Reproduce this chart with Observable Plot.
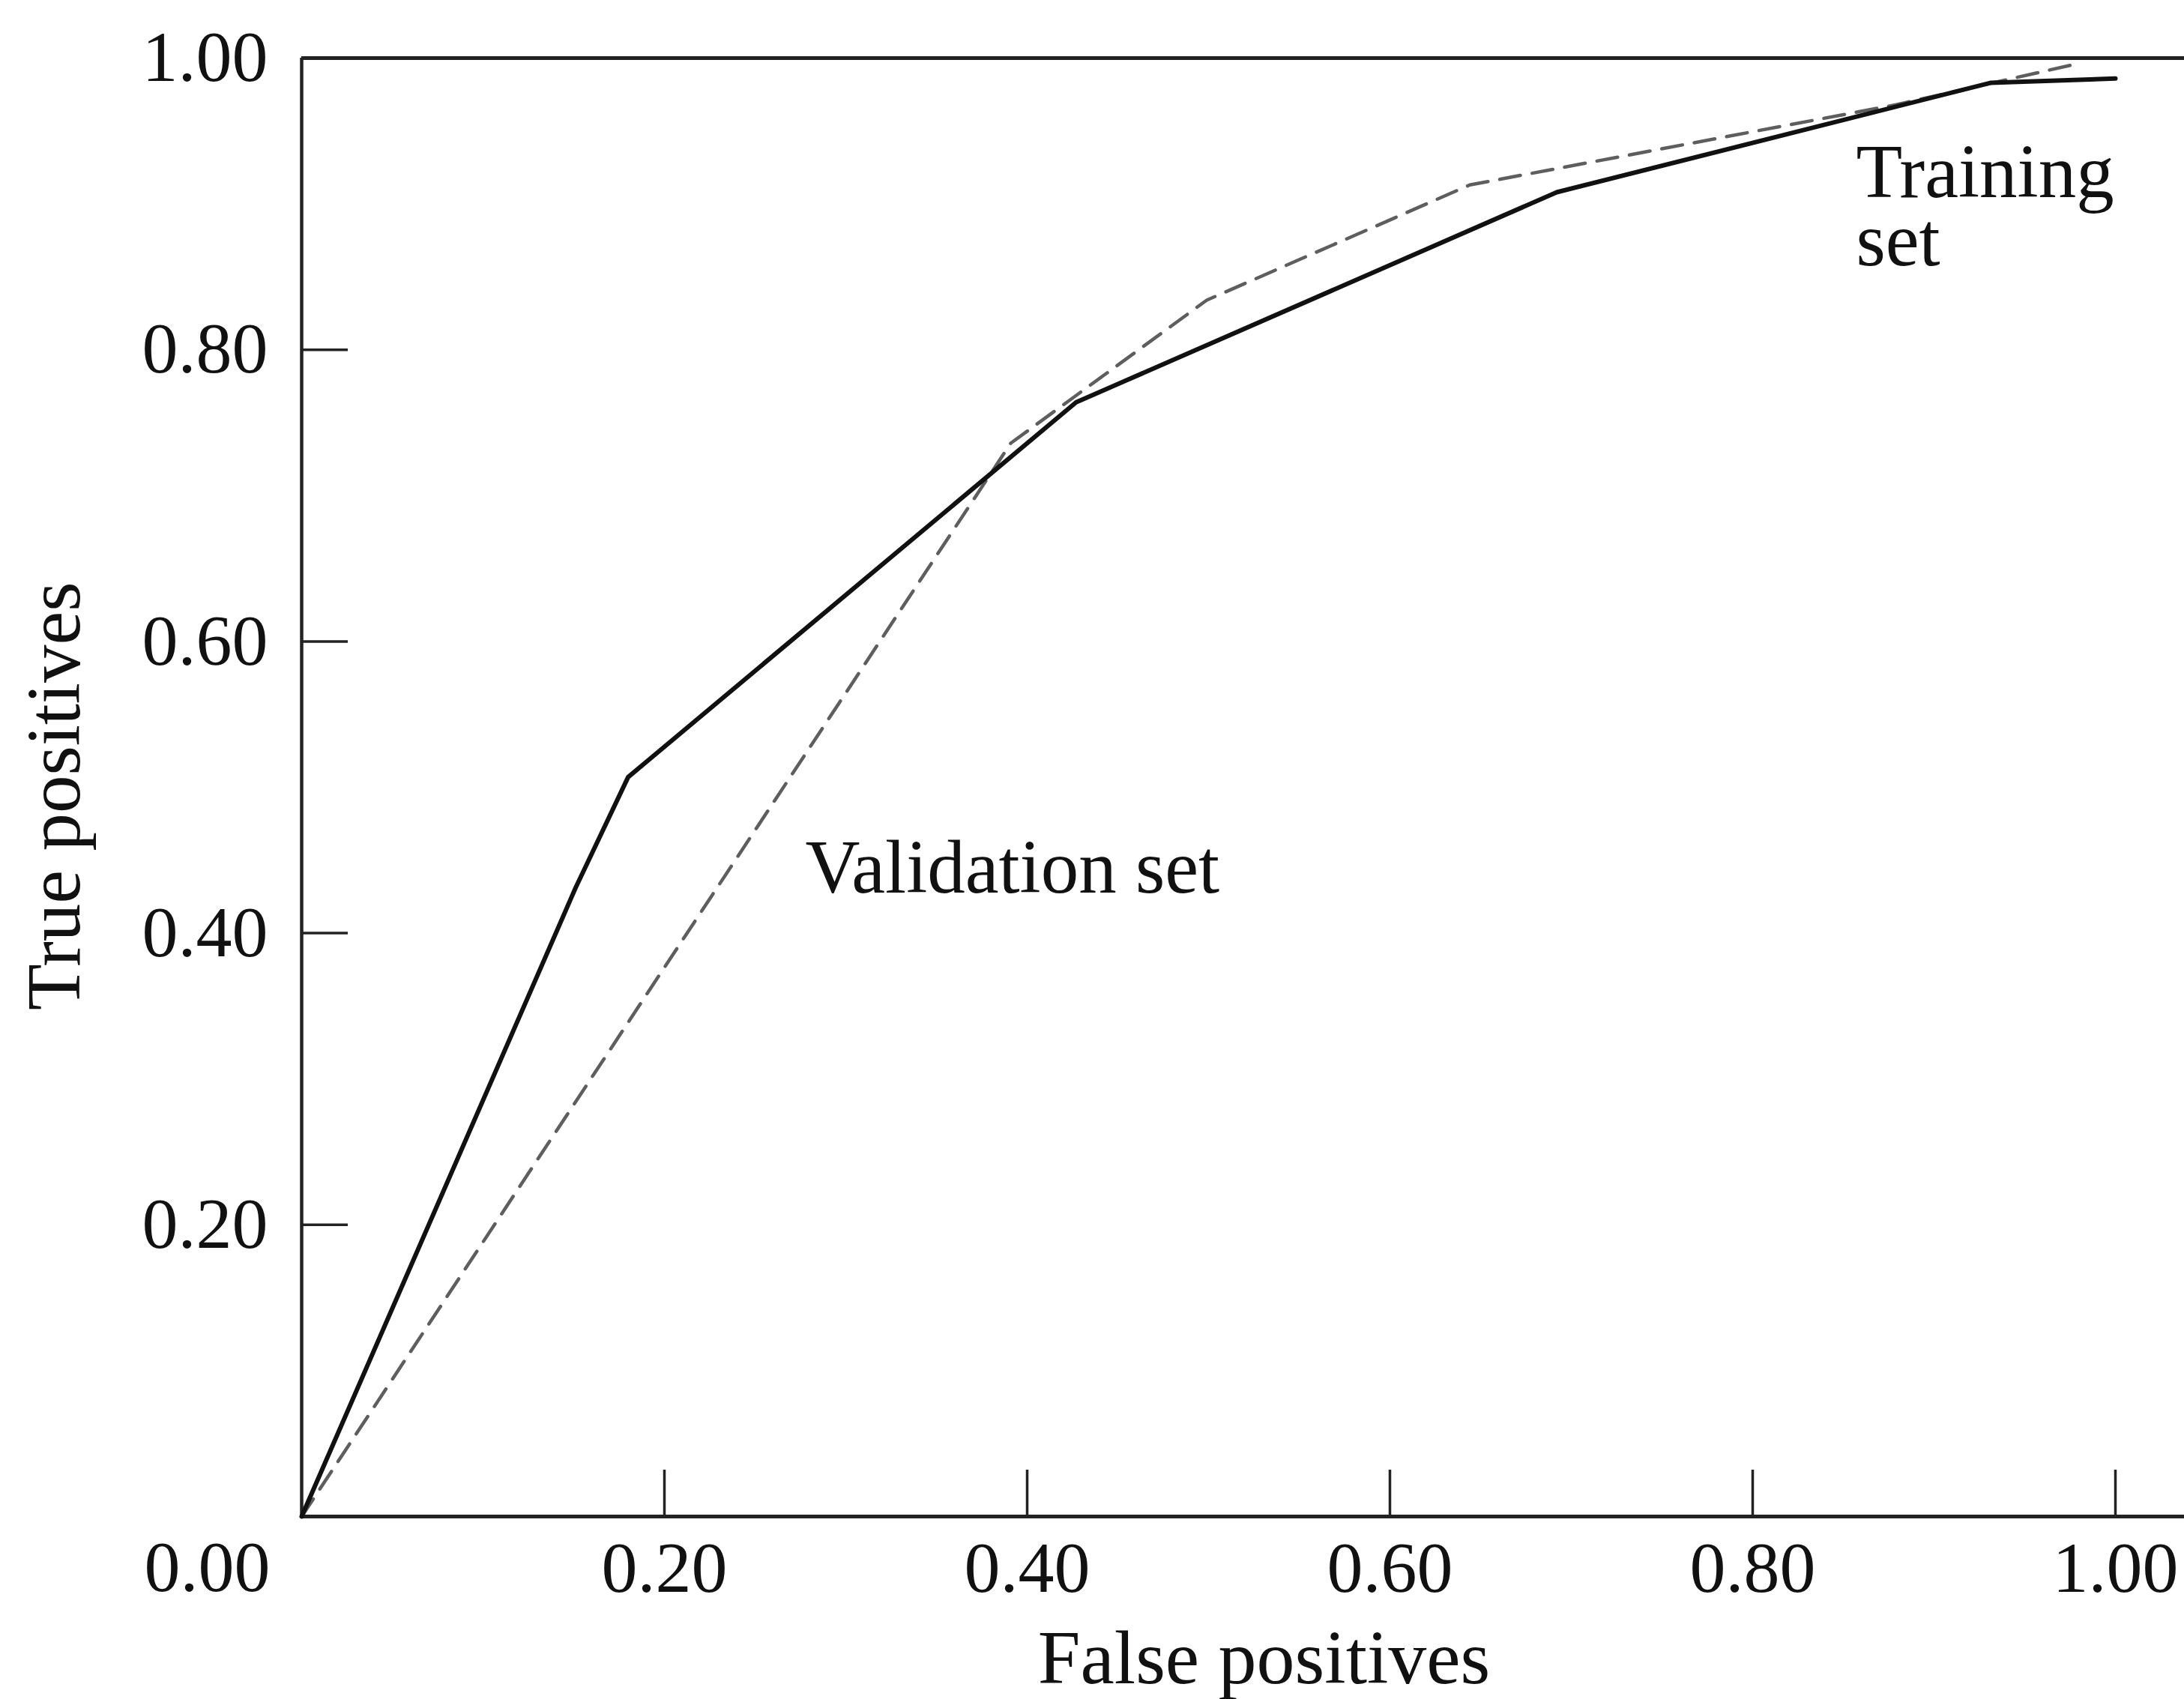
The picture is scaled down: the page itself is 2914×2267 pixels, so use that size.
<!DOCTYPE html>
<html>
<head>
<meta charset="utf-8">
<script src="https://cdn.jsdelivr.net/npm/d3@7"></script>
<script src="https://cdn.jsdelivr.net/npm/@observablehq/plot@0.6"></script>
<style>
  html, body { margin: 0; padding: 0; background: #fff; overflow: hidden; }
</style>
</head>
<body>
<div id="chart"></div>
<script>
// ROC curves
const fpTraining = [0, 0.151, 0.180, 0.427, 0.692, 0.931, 1.000];
const tpTraining = [0, 0.431, 0.507, 0.764, 0.908, 0.983, 0.986];

const fpValidation = [0, 0.391, 0.499, 0.644, 0.879, 0.975];
const tpValidation = [0, 0.736, 0.834, 0.913, 0.968, 0.995];

const xTicks = [0.2, 0.4, 0.6, 0.8, 1.0];
const yTicks = [0.2, 0.4, 0.6, 0.8, 1.0];
const originLabel = "0.00";

const xTitle = "False positives";
const yTitle = "True positives";
const trainingLabel = "Training\nset";
const validationLabel = "Validation set";

const training = fpTraining.map((x, i) => ({x, y: tpTraining[i]}));
const validation = fpValidation.map((x, i) => ({x, y: tpValidation[i]}));

const W = 2914, H = 2267;
const mL = 402, mR = 92, mT = 77, mB = 244;
const frameW = W - mL - mR, frameH = H - mT - mB;
const TICK = 62;
const serif = "'Liberation Serif', 'Times New Roman', serif";
const ink = "#111";
const fmt = d3.format(".2f");

const chart = Plot.plot({
  width: W,
  height: H,
  marginLeft: mL,
  marginRight: mR,
  marginTop: mT,
  marginBottom: mB,
  style: {background: "#fff", color: ink, fontFamily: serif},
  x: {domain: [0, 1]},
  y: {domain: [0, 1]},
  marks: [
    // tick labels
    Plot.axisX(xTicks, {tickSize: 0, tickPadding: 32, tickFormat: fmt, fontSize: 96, fontFamily: serif, label: null}),
    Plot.axisY(yTicks, {tickSize: 0, tickPadding: 45, tickFormat: fmt, fontSize: 96, fontFamily: serif, label: null}),
    Plot.text([originLabel], {x: 0, y: 0, text: d => d, textAnchor: "end", lineAnchor: "bottom", dx: -42, dy: 99, fontSize: 96, fontFamily: serif, fill: ink}),
    // inward ticks
    Plot.ruleX(xTicks, {insetTop: frameH - TICK, stroke: "#222", strokeWidth: 3.5}),
    Plot.ruleY(yTicks.slice(0, -1), {insetRight: frameW - TICK, stroke: "#222", strokeWidth: 3.5}),
    // frame: bottom and top lines run to the page edge, left axis
    Plot.ruleY([0, 1], {insetRight: -mR, stroke: "#222", strokeWidth: 5}),
    Plot.ruleX([0], {stroke: "#222", strokeWidth: 4.5}),
    // curves
    Plot.line(validation, {x: "x", y: "y", stroke: "#5e5e5e", strokeWidth: 4.5, strokeDasharray: "28,16"}),
    Plot.line(training, {x: "x", y: "y", stroke: ink, strokeWidth: 6, strokeLinejoin: "round"}),
    // annotations
    Plot.text([{x: 0.2777, y: 0.428, t: validationLabel}], {x: "x", y: "y", text: "t", textAnchor: "start", lineAnchor: "bottom", fontSize: 101, fontFamily: serif, fill: ink}),
    Plot.text([{x: 0.857, y: 0.858, t: trainingLabel}], {x: "x", y: "y", text: "t", textAnchor: "start", lineAnchor: "bottom", lineHeight: 0.9, fontSize: 101, fontFamily: serif, fill: ink}),
    // axis titles
    Plot.text([xTitle], {x: 0.5306, frameAnchor: "bottom", text: d => d, dy: 222, lineAnchor: "bottom", textAnchor: "middle", fontSize: 102, fontFamily: serif, fill: ink}),
    Plot.text([yTitle], {y: 0.494, frameAnchor: "left", text: d => d, dx: -297, rotate: -90, lineAnchor: "bottom", textAnchor: "middle", fontSize: 101, fontFamily: serif, fill: ink})
  ]
});

document.getElementById("chart").appendChild(chart);
</script>
</body>
</html>
